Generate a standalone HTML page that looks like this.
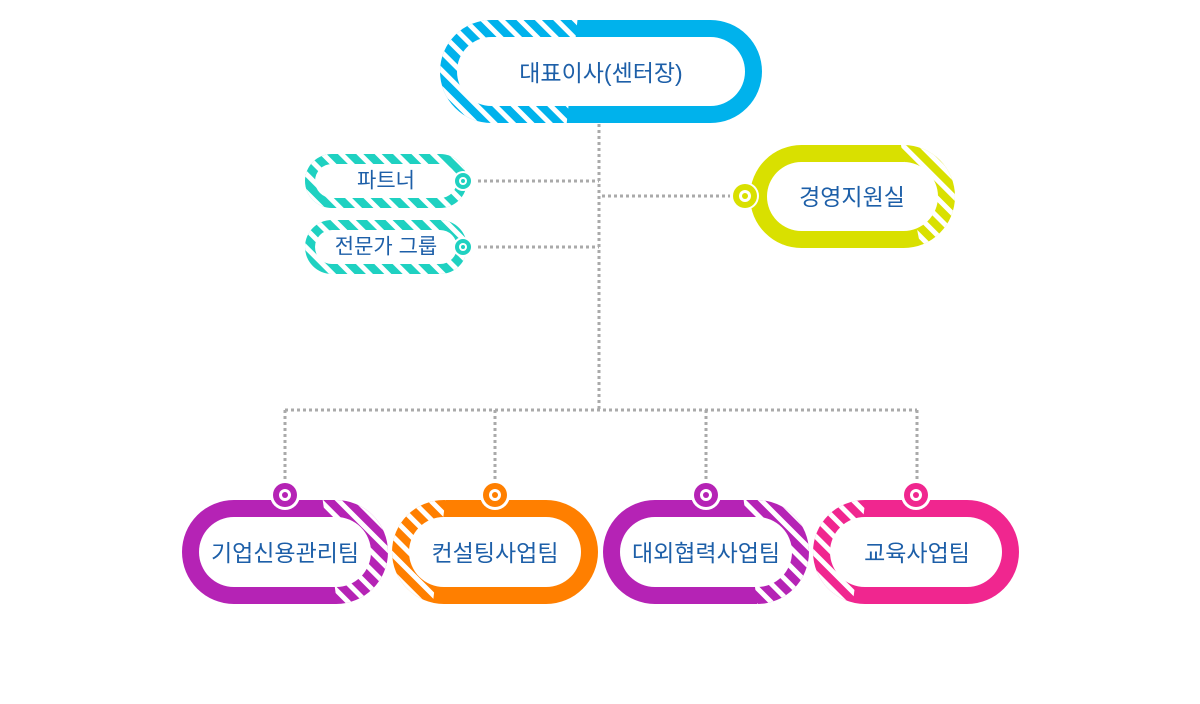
<!DOCTYPE html>
<html><head><meta charset="utf-8"><style>
html,body{margin:0;padding:0;background:#fff;width:1200px;height:704px;overflow:hidden}
text{font-family:"Liberation Sans","Noto Sans CJK KR",sans-serif;fill:#1d5fa8;text-anchor:middle;dominant-baseline:central}
</style></head><body>
<svg width="1200" height="704" viewBox="0 0 1200 704" xmlns="http://www.w3.org/2000/svg">
<defs>
<pattern id="st" width="13" height="13" patternUnits="userSpaceOnUse" patternTransform="rotate(-45)">
<rect x="0" y="0" width="5" height="13" fill="#fff"/>
</pattern>
<clipPath id="cTop"><polygon points="430,15 578,15 566,130 430,130"/></clipPath>
<clipPath id="cLime"><polygon points="900,140 970,140 970,255 922,255"/></clipPath>
<clipPath id="cP1"><polygon points="322,495 400,495 400,610 338,610"/></clipPath>
<clipPath id="cO1"><polygon points="385,495 446,495 432,610 385,610"/></clipPath>
<clipPath id="cP2"><polygon points="743,495 820,495 820,610 758,610"/></clipPath>
<clipPath id="cK1"><polygon points="805,495 866,495 852,610 805,610"/></clipPath>
</defs>

<g stroke="#aaa" stroke-width="3" stroke-dasharray="3 3" fill="none">
<line x1="599" y1="124" x2="599" y2="410"/>
<line x1="285" y1="410" x2="917" y2="410"/>
<line x1="285" y1="410" x2="285" y2="482"/>
<line x1="495" y1="410" x2="495" y2="482"/>
<line x1="706" y1="410" x2="706" y2="482"/>
<line x1="917" y1="410" x2="917" y2="482"/>
<line x1="478" y1="181" x2="599" y2="181"/>
<line x1="478" y1="247" x2="599" y2="247"/>
<line x1="602" y1="196" x2="730" y2="196"/>
</g>

<!-- top -->
<rect x="440" y="20" width="322" height="103" rx="51.5" fill="#00b2ec"/>
<rect x="440" y="20" width="322" height="103" rx="51.5" fill="url(#st)" clip-path="url(#cTop)"/>
<rect x="457" y="37" width="288" height="69" rx="34.5" fill="#fff"/>
<text x="601" y="73" font-size="23">대표이사(센터장)</text>

<!-- partner -->
<rect x="305" y="154" width="162" height="54" rx="27" fill="#1fd1c1"/>
<rect x="305" y="154" width="162" height="54" rx="27" fill="url(#st)"/>
<rect x="315" y="164" width="142" height="34" rx="17" fill="#fff"/>
<text x="386" y="181" font-size="21">파트너</text>
<circle cx="463" cy="181" r="10" fill="#fff"/><circle cx="463" cy="181" r="8" fill="#1fd1c1"/><circle cx="463" cy="181" r="4" fill="#fff"/><circle cx="463" cy="181" r="2" fill="#1fd1c1"/>

<rect x="305" y="220" width="162" height="54" rx="27" fill="#1fd1c1"/>
<rect x="305" y="220" width="162" height="54" rx="27" fill="url(#st)"/>
<rect x="315" y="230" width="142" height="34" rx="17" fill="#fff"/>
<text x="386" y="247" font-size="21">전문가 그룹</text>
<circle cx="463" cy="247" r="10" fill="#fff"/><circle cx="463" cy="247" r="8" fill="#1fd1c1"/><circle cx="463" cy="247" r="4" fill="#fff"/><circle cx="463" cy="247" r="2" fill="#1fd1c1"/>

<!-- lime -->
<rect x="750" y="145" width="205" height="103" rx="51.5" fill="#d9e000"/>
<rect x="750" y="145" width="205" height="103" rx="51.5" fill="url(#st)" clip-path="url(#cLime)"/>
<rect x="767" y="162" width="171" height="69" rx="34.5" fill="#fff"/>
<text x="852" y="197" font-size="23">경영지원실</text>
<circle cx="745" cy="196" r="14" fill="#fff"/><circle cx="745" cy="196" r="12" fill="#d9e000"/><circle cx="745" cy="196" r="6" fill="#fff"/><circle cx="745" cy="196" r="3" fill="#d9e000"/>

<!-- bottom -->
<rect x="182" y="500" width="206" height="104" rx="52" fill="#b523b5"/>
<rect x="182" y="500" width="206" height="104" rx="52" fill="url(#st)" clip-path="url(#cP1)"/>
<rect x="199" y="517" width="172" height="70" rx="35" fill="#fff"/>
<text x="285" y="553" font-size="23">기업신용관리팀</text>
<circle cx="285" cy="495" r="15" fill="#fff"/><circle cx="285" cy="495" r="12" fill="#b523b5"/><circle cx="285" cy="495" r="6" fill="#fff"/><circle cx="285" cy="495" r="3" fill="#b523b5"/>

<rect x="392" y="500" width="206" height="104" rx="52" fill="#ff7f00"/>
<rect x="392" y="500" width="206" height="104" rx="52" fill="url(#st)" clip-path="url(#cO1)"/>
<rect x="409" y="517" width="172" height="70" rx="35" fill="#fff"/>
<text x="495" y="553" font-size="23">컨설팅사업팀</text>
<circle cx="495" cy="495" r="15" fill="#fff"/><circle cx="495" cy="495" r="12" fill="#ff7f00"/><circle cx="495" cy="495" r="6" fill="#fff"/><circle cx="495" cy="495" r="3" fill="#ff7f00"/>

<rect x="603" y="500" width="206" height="104" rx="52" fill="#b523b5"/>
<rect x="603" y="500" width="206" height="104" rx="52" fill="url(#st)" clip-path="url(#cP2)"/>
<rect x="620" y="517" width="172" height="70" rx="35" fill="#fff"/>
<text x="706" y="553" font-size="23">대외협력사업팀</text>
<circle cx="706" cy="495" r="15" fill="#fff"/><circle cx="706" cy="495" r="12" fill="#b523b5"/><circle cx="706" cy="495" r="6" fill="#fff"/><circle cx="706" cy="495" r="3" fill="#b523b5"/>

<rect x="813" y="500" width="206" height="104" rx="52" fill="#f0268f"/>
<rect x="813" y="500" width="206" height="104" rx="52" fill="url(#st)" clip-path="url(#cK1)"/>
<rect x="830" y="517" width="172" height="70" rx="35" fill="#fff"/>
<text x="917" y="553" font-size="23">교육사업팀</text>
<circle cx="916" cy="495" r="15" fill="#fff"/><circle cx="916" cy="495" r="12" fill="#f0268f"/><circle cx="916" cy="495" r="6" fill="#fff"/><circle cx="916" cy="495" r="3" fill="#f0268f"/>
</svg>
</body></html>
